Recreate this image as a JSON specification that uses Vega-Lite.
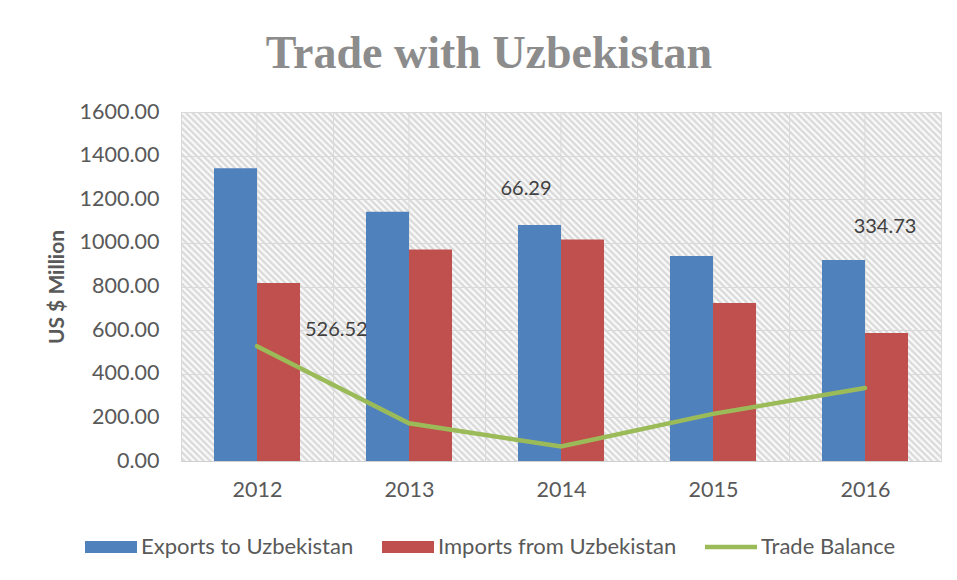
{
  "$schema": "https://vega.github.io/schema/vega-lite/v6.json",
  "width": 760,
  "height": 349,
  "autosize": "none",
  "padding": {"left": 181, "top": 112, "right": 16, "bottom": 119},
  "background": "white",
  "title": {"text": "Trade with Uzbekistan", "font": "Liberation Serif", "fontSize": 46, "fontWeight": "bold", "color": "#8c8c8c", "anchor": "middle", "frame": "group", "dx": -72, "dy": 44, "baseline": "alphabetic", "offset": 31},
  "config": {
    "view": {"stroke": "#d9d9d9", "fill": {"gradient": "linear", "x1": 0, "y1": 1, "x2": 1.411, "y2": 0.35, "stops": [
{"offset":0,"color":"#fff"},{"offset":0.0025,"color":"#d4d4d4"},{"offset":0.005,"color":"#fff"},{"offset":0.0075,"color":"#d4d4d4"},
{"offset":0.01,"color":"#fff"},{"offset":0.0125,"color":"#d4d4d4"},{"offset":0.015,"color":"#fff"},{"offset":0.0175,"color":"#d4d4d4"},
{"offset":0.02,"color":"#fff"},{"offset":0.0225,"color":"#d4d4d4"},{"offset":0.025,"color":"#fff"},{"offset":0.0275,"color":"#d4d4d4"},
{"offset":0.03,"color":"#fff"},{"offset":0.0325,"color":"#d4d4d4"},{"offset":0.035,"color":"#fff"},{"offset":0.0375,"color":"#d4d4d4"},
{"offset":0.04,"color":"#fff"},{"offset":0.0425,"color":"#d4d4d4"},{"offset":0.045,"color":"#fff"},{"offset":0.0475,"color":"#d4d4d4"},
{"offset":0.05,"color":"#fff"},{"offset":0.0525,"color":"#d4d4d4"},{"offset":0.055,"color":"#fff"},{"offset":0.0575,"color":"#d4d4d4"},
{"offset":0.06,"color":"#fff"},{"offset":0.0625,"color":"#d4d4d4"},{"offset":0.065,"color":"#fff"},{"offset":0.0675,"color":"#d4d4d4"},
{"offset":0.07,"color":"#fff"},{"offset":0.0725,"color":"#d4d4d4"},{"offset":0.075,"color":"#fff"},{"offset":0.0775,"color":"#d4d4d4"},
{"offset":0.08,"color":"#fff"},{"offset":0.0825,"color":"#d4d4d4"},{"offset":0.085,"color":"#fff"},{"offset":0.0875,"color":"#d4d4d4"},
{"offset":0.09,"color":"#fff"},{"offset":0.0925,"color":"#d4d4d4"},{"offset":0.095,"color":"#fff"},{"offset":0.0975,"color":"#d4d4d4"},
{"offset":0.1,"color":"#fff"},{"offset":0.1025,"color":"#d4d4d4"},{"offset":0.105,"color":"#fff"},{"offset":0.1075,"color":"#d4d4d4"},
{"offset":0.11,"color":"#fff"},{"offset":0.1125,"color":"#d4d4d4"},{"offset":0.115,"color":"#fff"},{"offset":0.1175,"color":"#d4d4d4"},
{"offset":0.12,"color":"#fff"},{"offset":0.1225,"color":"#d4d4d4"},{"offset":0.125,"color":"#fff"},{"offset":0.1275,"color":"#d4d4d4"},
{"offset":0.13,"color":"#fff"},{"offset":0.1325,"color":"#d4d4d4"},{"offset":0.135,"color":"#fff"},{"offset":0.1375,"color":"#d4d4d4"},
{"offset":0.14,"color":"#fff"},{"offset":0.1425,"color":"#d4d4d4"},{"offset":0.145,"color":"#fff"},{"offset":0.1475,"color":"#d4d4d4"},
{"offset":0.15,"color":"#fff"},{"offset":0.1525,"color":"#d4d4d4"},{"offset":0.155,"color":"#fff"},{"offset":0.1575,"color":"#d4d4d4"},
{"offset":0.16,"color":"#fff"},{"offset":0.1625,"color":"#d4d4d4"},{"offset":0.165,"color":"#fff"},{"offset":0.1675,"color":"#d4d4d4"},
{"offset":0.17,"color":"#fff"},{"offset":0.1725,"color":"#d4d4d4"},{"offset":0.175,"color":"#fff"},{"offset":0.1775,"color":"#d4d4d4"},
{"offset":0.18,"color":"#fff"},{"offset":0.1825,"color":"#d4d4d4"},{"offset":0.185,"color":"#fff"},{"offset":0.1875,"color":"#d4d4d4"},
{"offset":0.19,"color":"#fff"},{"offset":0.1925,"color":"#d4d4d4"},{"offset":0.195,"color":"#fff"},{"offset":0.1975,"color":"#d4d4d4"},
{"offset":0.2,"color":"#fff"},{"offset":0.2025,"color":"#d4d4d4"},{"offset":0.205,"color":"#fff"},{"offset":0.2075,"color":"#d4d4d4"},
{"offset":0.21,"color":"#fff"},{"offset":0.2125,"color":"#d4d4d4"},{"offset":0.215,"color":"#fff"},{"offset":0.2175,"color":"#d4d4d4"},
{"offset":0.22,"color":"#fff"},{"offset":0.2225,"color":"#d4d4d4"},{"offset":0.225,"color":"#fff"},{"offset":0.2275,"color":"#d4d4d4"},
{"offset":0.23,"color":"#fff"},{"offset":0.2325,"color":"#d4d4d4"},{"offset":0.235,"color":"#fff"},{"offset":0.2375,"color":"#d4d4d4"},
{"offset":0.24,"color":"#fff"},{"offset":0.2425,"color":"#d4d4d4"},{"offset":0.245,"color":"#fff"},{"offset":0.2475,"color":"#d4d4d4"},
{"offset":0.25,"color":"#fff"},{"offset":0.2525,"color":"#d4d4d4"},{"offset":0.255,"color":"#fff"},{"offset":0.2575,"color":"#d4d4d4"},
{"offset":0.26,"color":"#fff"},{"offset":0.2625,"color":"#d4d4d4"},{"offset":0.265,"color":"#fff"},{"offset":0.2675,"color":"#d4d4d4"},
{"offset":0.27,"color":"#fff"},{"offset":0.2725,"color":"#d4d4d4"},{"offset":0.275,"color":"#fff"},{"offset":0.2775,"color":"#d4d4d4"},
{"offset":0.28,"color":"#fff"},{"offset":0.2825,"color":"#d4d4d4"},{"offset":0.285,"color":"#fff"},{"offset":0.2875,"color":"#d4d4d4"},
{"offset":0.29,"color":"#fff"},{"offset":0.2925,"color":"#d4d4d4"},{"offset":0.295,"color":"#fff"},{"offset":0.2975,"color":"#d4d4d4"},
{"offset":0.3,"color":"#fff"},{"offset":0.3025,"color":"#d4d4d4"},{"offset":0.305,"color":"#fff"},{"offset":0.3075,"color":"#d4d4d4"},
{"offset":0.31,"color":"#fff"},{"offset":0.3125,"color":"#d4d4d4"},{"offset":0.315,"color":"#fff"},{"offset":0.3175,"color":"#d4d4d4"},
{"offset":0.32,"color":"#fff"},{"offset":0.3225,"color":"#d4d4d4"},{"offset":0.325,"color":"#fff"},{"offset":0.3275,"color":"#d4d4d4"},
{"offset":0.33,"color":"#fff"},{"offset":0.3325,"color":"#d4d4d4"},{"offset":0.335,"color":"#fff"},{"offset":0.3375,"color":"#d4d4d4"},
{"offset":0.34,"color":"#fff"},{"offset":0.3425,"color":"#d4d4d4"},{"offset":0.345,"color":"#fff"},{"offset":0.3475,"color":"#d4d4d4"},
{"offset":0.35,"color":"#fff"},{"offset":0.3525,"color":"#d4d4d4"},{"offset":0.355,"color":"#fff"},{"offset":0.3575,"color":"#d4d4d4"},
{"offset":0.36,"color":"#fff"},{"offset":0.3625,"color":"#d4d4d4"},{"offset":0.365,"color":"#fff"},{"offset":0.3675,"color":"#d4d4d4"},
{"offset":0.37,"color":"#fff"},{"offset":0.3725,"color":"#d4d4d4"},{"offset":0.375,"color":"#fff"},{"offset":0.3775,"color":"#d4d4d4"},
{"offset":0.38,"color":"#fff"},{"offset":0.3825,"color":"#d4d4d4"},{"offset":0.385,"color":"#fff"},{"offset":0.3875,"color":"#d4d4d4"},
{"offset":0.39,"color":"#fff"},{"offset":0.3925,"color":"#d4d4d4"},{"offset":0.395,"color":"#fff"},{"offset":0.3975,"color":"#d4d4d4"},
{"offset":0.4,"color":"#fff"},{"offset":0.4025,"color":"#d4d4d4"},{"offset":0.405,"color":"#fff"},{"offset":0.4075,"color":"#d4d4d4"},
{"offset":0.41,"color":"#fff"},{"offset":0.4125,"color":"#d4d4d4"},{"offset":0.415,"color":"#fff"},{"offset":0.4175,"color":"#d4d4d4"},
{"offset":0.42,"color":"#fff"},{"offset":0.4225,"color":"#d4d4d4"},{"offset":0.425,"color":"#fff"},{"offset":0.4275,"color":"#d4d4d4"},
{"offset":0.43,"color":"#fff"},{"offset":0.4325,"color":"#d4d4d4"},{"offset":0.435,"color":"#fff"},{"offset":0.4375,"color":"#d4d4d4"},
{"offset":0.44,"color":"#fff"},{"offset":0.4425,"color":"#d4d4d4"},{"offset":0.445,"color":"#fff"},{"offset":0.4475,"color":"#d4d4d4"},
{"offset":0.45,"color":"#fff"},{"offset":0.4525,"color":"#d4d4d4"},{"offset":0.455,"color":"#fff"},{"offset":0.4575,"color":"#d4d4d4"},
{"offset":0.46,"color":"#fff"},{"offset":0.4625,"color":"#d4d4d4"},{"offset":0.465,"color":"#fff"},{"offset":0.4675,"color":"#d4d4d4"},
{"offset":0.47,"color":"#fff"},{"offset":0.4725,"color":"#d4d4d4"},{"offset":0.475,"color":"#fff"},{"offset":0.4775,"color":"#d4d4d4"},
{"offset":0.48,"color":"#fff"},{"offset":0.4825,"color":"#d4d4d4"},{"offset":0.485,"color":"#fff"},{"offset":0.4875,"color":"#d4d4d4"},
{"offset":0.49,"color":"#fff"},{"offset":0.4925,"color":"#d4d4d4"},{"offset":0.495,"color":"#fff"},{"offset":0.4975,"color":"#d4d4d4"},
{"offset":0.5,"color":"#fff"},{"offset":0.5025,"color":"#d4d4d4"},{"offset":0.505,"color":"#fff"},{"offset":0.5075,"color":"#d4d4d4"},
{"offset":0.51,"color":"#fff"},{"offset":0.5125,"color":"#d4d4d4"},{"offset":0.515,"color":"#fff"},{"offset":0.5175,"color":"#d4d4d4"},
{"offset":0.52,"color":"#fff"},{"offset":0.5225,"color":"#d4d4d4"},{"offset":0.525,"color":"#fff"},{"offset":0.5275,"color":"#d4d4d4"},
{"offset":0.53,"color":"#fff"},{"offset":0.5325,"color":"#d4d4d4"},{"offset":0.535,"color":"#fff"},{"offset":0.5375,"color":"#d4d4d4"},
{"offset":0.54,"color":"#fff"},{"offset":0.5425,"color":"#d4d4d4"},{"offset":0.545,"color":"#fff"},{"offset":0.5475,"color":"#d4d4d4"},
{"offset":0.55,"color":"#fff"},{"offset":0.5525,"color":"#d4d4d4"},{"offset":0.555,"color":"#fff"},{"offset":0.5575,"color":"#d4d4d4"},
{"offset":0.56,"color":"#fff"},{"offset":0.5625,"color":"#d4d4d4"},{"offset":0.565,"color":"#fff"},{"offset":0.5675,"color":"#d4d4d4"},
{"offset":0.57,"color":"#fff"},{"offset":0.5725,"color":"#d4d4d4"},{"offset":0.575,"color":"#fff"},{"offset":0.5775,"color":"#d4d4d4"},
{"offset":0.58,"color":"#fff"},{"offset":0.5825,"color":"#d4d4d4"},{"offset":0.585,"color":"#fff"},{"offset":0.5875,"color":"#d4d4d4"},
{"offset":0.59,"color":"#fff"},{"offset":0.5925,"color":"#d4d4d4"},{"offset":0.595,"color":"#fff"},{"offset":0.5975,"color":"#d4d4d4"},
{"offset":0.6,"color":"#fff"},{"offset":0.6025,"color":"#d4d4d4"},{"offset":0.605,"color":"#fff"},{"offset":0.6075,"color":"#d4d4d4"},
{"offset":0.61,"color":"#fff"},{"offset":0.6125,"color":"#d4d4d4"},{"offset":0.615,"color":"#fff"},{"offset":0.6175,"color":"#d4d4d4"},
{"offset":0.62,"color":"#fff"},{"offset":0.6225,"color":"#d4d4d4"},{"offset":0.625,"color":"#fff"},{"offset":0.6275,"color":"#d4d4d4"},
{"offset":0.63,"color":"#fff"},{"offset":0.6325,"color":"#d4d4d4"},{"offset":0.635,"color":"#fff"},{"offset":0.6375,"color":"#d4d4d4"},
{"offset":0.64,"color":"#fff"},{"offset":0.6425,"color":"#d4d4d4"},{"offset":0.645,"color":"#fff"},{"offset":0.6475,"color":"#d4d4d4"},
{"offset":0.65,"color":"#fff"},{"offset":0.6525,"color":"#d4d4d4"},{"offset":0.655,"color":"#fff"},{"offset":0.6575,"color":"#d4d4d4"},
{"offset":0.66,"color":"#fff"},{"offset":0.6625,"color":"#d4d4d4"},{"offset":0.665,"color":"#fff"},{"offset":0.6675,"color":"#d4d4d4"},
{"offset":0.67,"color":"#fff"},{"offset":0.6725,"color":"#d4d4d4"},{"offset":0.675,"color":"#fff"},{"offset":0.6775,"color":"#d4d4d4"},
{"offset":0.68,"color":"#fff"},{"offset":0.6825,"color":"#d4d4d4"},{"offset":0.685,"color":"#fff"},{"offset":0.6875,"color":"#d4d4d4"},
{"offset":0.69,"color":"#fff"},{"offset":0.6925,"color":"#d4d4d4"},{"offset":0.695,"color":"#fff"},{"offset":0.6975,"color":"#d4d4d4"},
{"offset":0.7,"color":"#fff"},{"offset":0.7025,"color":"#d4d4d4"},{"offset":0.705,"color":"#fff"},{"offset":0.7075,"color":"#d4d4d4"},
{"offset":0.71,"color":"#fff"},{"offset":0.7125,"color":"#d4d4d4"},{"offset":0.715,"color":"#fff"},{"offset":0.7175,"color":"#d4d4d4"},
{"offset":0.72,"color":"#fff"},{"offset":0.7225,"color":"#d4d4d4"},{"offset":0.725,"color":"#fff"},{"offset":0.7275,"color":"#d4d4d4"},
{"offset":0.73,"color":"#fff"},{"offset":0.7325,"color":"#d4d4d4"},{"offset":0.735,"color":"#fff"},{"offset":0.7375,"color":"#d4d4d4"},
{"offset":0.74,"color":"#fff"},{"offset":0.7425,"color":"#d4d4d4"},{"offset":0.745,"color":"#fff"},{"offset":0.7475,"color":"#d4d4d4"},
{"offset":0.75,"color":"#fff"},{"offset":0.7525,"color":"#d4d4d4"},{"offset":0.755,"color":"#fff"},{"offset":0.7575,"color":"#d4d4d4"},
{"offset":0.76,"color":"#fff"},{"offset":0.7625,"color":"#d4d4d4"},{"offset":0.765,"color":"#fff"},{"offset":0.7675,"color":"#d4d4d4"},
{"offset":0.77,"color":"#fff"},{"offset":0.7725,"color":"#d4d4d4"},{"offset":0.775,"color":"#fff"},{"offset":0.7775,"color":"#d4d4d4"},
{"offset":0.78,"color":"#fff"},{"offset":0.7825,"color":"#d4d4d4"},{"offset":0.785,"color":"#fff"},{"offset":0.7875,"color":"#d4d4d4"},
{"offset":0.79,"color":"#fff"},{"offset":0.7925,"color":"#d4d4d4"},{"offset":0.795,"color":"#fff"},{"offset":0.7975,"color":"#d4d4d4"},
{"offset":0.8,"color":"#fff"},{"offset":0.8025,"color":"#d4d4d4"},{"offset":0.805,"color":"#fff"},{"offset":0.8075,"color":"#d4d4d4"},
{"offset":0.81,"color":"#fff"},{"offset":0.8125,"color":"#d4d4d4"},{"offset":0.815,"color":"#fff"},{"offset":0.8175,"color":"#d4d4d4"},
{"offset":0.82,"color":"#fff"},{"offset":0.8225,"color":"#d4d4d4"},{"offset":0.825,"color":"#fff"},{"offset":0.8275,"color":"#d4d4d4"},
{"offset":0.83,"color":"#fff"},{"offset":0.8325,"color":"#d4d4d4"},{"offset":0.835,"color":"#fff"},{"offset":0.8375,"color":"#d4d4d4"},
{"offset":0.84,"color":"#fff"},{"offset":0.8425,"color":"#d4d4d4"},{"offset":0.845,"color":"#fff"},{"offset":0.8475,"color":"#d4d4d4"},
{"offset":0.85,"color":"#fff"},{"offset":0.8525,"color":"#d4d4d4"},{"offset":0.855,"color":"#fff"},{"offset":0.8575,"color":"#d4d4d4"},
{"offset":0.86,"color":"#fff"},{"offset":0.8625,"color":"#d4d4d4"},{"offset":0.865,"color":"#fff"},{"offset":0.8675,"color":"#d4d4d4"},
{"offset":0.87,"color":"#fff"},{"offset":0.8725,"color":"#d4d4d4"},{"offset":0.875,"color":"#fff"},{"offset":0.8775,"color":"#d4d4d4"},
{"offset":0.88,"color":"#fff"},{"offset":0.8825,"color":"#d4d4d4"},{"offset":0.885,"color":"#fff"},{"offset":0.8875,"color":"#d4d4d4"},
{"offset":0.89,"color":"#fff"},{"offset":0.8925,"color":"#d4d4d4"},{"offset":0.895,"color":"#fff"},{"offset":0.8975,"color":"#d4d4d4"},
{"offset":0.9,"color":"#fff"},{"offset":0.9025,"color":"#d4d4d4"},{"offset":0.905,"color":"#fff"},{"offset":0.9075,"color":"#d4d4d4"},
{"offset":0.91,"color":"#fff"},{"offset":0.9125,"color":"#d4d4d4"},{"offset":0.915,"color":"#fff"},{"offset":0.9175,"color":"#d4d4d4"},
{"offset":0.92,"color":"#fff"},{"offset":0.9225,"color":"#d4d4d4"},{"offset":0.925,"color":"#fff"},{"offset":0.9275,"color":"#d4d4d4"},
{"offset":0.93,"color":"#fff"},{"offset":0.9325,"color":"#d4d4d4"},{"offset":0.935,"color":"#fff"},{"offset":0.9375,"color":"#d4d4d4"},
{"offset":0.94,"color":"#fff"},{"offset":0.9425,"color":"#d4d4d4"},{"offset":0.945,"color":"#fff"},{"offset":0.9475,"color":"#d4d4d4"},
{"offset":0.95,"color":"#fff"},{"offset":0.9525,"color":"#d4d4d4"},{"offset":0.955,"color":"#fff"},{"offset":0.9575,"color":"#d4d4d4"},
{"offset":0.96,"color":"#fff"},{"offset":0.9625,"color":"#d4d4d4"},{"offset":0.965,"color":"#fff"},{"offset":0.9675,"color":"#d4d4d4"},
{"offset":0.97,"color":"#fff"},{"offset":0.9725,"color":"#d4d4d4"},{"offset":0.975,"color":"#fff"},{"offset":0.9775,"color":"#d4d4d4"},
{"offset":0.98,"color":"#fff"},{"offset":0.9825,"color":"#d4d4d4"},{"offset":0.985,"color":"#fff"},{"offset":0.9875,"color":"#d4d4d4"},
{"offset":0.99,"color":"#fff"},{"offset":0.9925,"color":"#d4d4d4"},{"offset":0.995,"color":"#fff"},{"offset":0.9975,"color":"#d4d4d4"},
{"offset":1,"color":"#fff"}
]}},
    "axis": {"labelFont": "Lato", "titleFont": "Lato", "labelColor": "#595959", "titleColor": "#595959", "labelFontSize": 21.5, "titleFontSize": 21, "ticks": false, "gridColor": "#d9d9d9", "gridWidth": 1},
    "legend": {"labelFont": "Lato", "labelFontSize": 22, "labelColor": "#595959", "labelLimit": 0}
  },
  "data": {"values": [
    {"year": "2012", "series": "Exports to Uzbekistan", "value": 1342.0},
    {"year": "2012", "series": "Imports from Uzbekistan", "value": 815.48},
    {"year": "2012", "series": "Trade Balance", "value": 526.52},
    {"year": "2013", "series": "Exports to Uzbekistan", "value": 1143.0},
    {"year": "2013", "series": "Imports from Uzbekistan", "value": 970.0},
    {"year": "2013", "series": "Trade Balance", "value": 173.0},
    {"year": "2014", "series": "Exports to Uzbekistan", "value": 1082.0},
    {"year": "2014", "series": "Imports from Uzbekistan", "value": 1015.71},
    {"year": "2014", "series": "Trade Balance", "value": 66.29},
    {"year": "2015", "series": "Exports to Uzbekistan", "value": 940.0},
    {"year": "2015", "series": "Imports from Uzbekistan", "value": 724.0},
    {"year": "2015", "series": "Trade Balance", "value": 216.0},
    {"year": "2016", "series": "Exports to Uzbekistan", "value": 921.73},
    {"year": "2016", "series": "Imports from Uzbekistan", "value": 587.0},
    {"year": "2016", "series": "Trade Balance", "value": 334.73}
  ]},
  "encoding": {
    "x": {"field": "year", "type": "ordinal", "scale": {"paddingInner": 0, "paddingOuter": 0}, "axis": {"title": null, "labelAngle": 0, "grid": true, "tickBand": "extent", "domainColor": "#d0d0d0", "labelPadding": 18}},
    "y": {"field": "value", "type": "quantitative", "scale": {"domain": [0, 1600], "nice": false}, "axis": {"title": "US $ Million", "values": [0, 200, 400, 600, 800, 1000, 1200, 1400, 1600], "format": ".2f", "domain": false, "labelPadding": 22, "titlePadding": 12, "titleFontWeight": "bold"}}
  },
  "layer": [
    {
      "transform": [{"filter": "datum.series === 'Trade Balance'"}],
      "mark": {"type": "rule", "color": "#d9d9d9", "strokeWidth": 1},
      "encoding": {"y": null}
    },
    {
      "transform": [{"filter": "datum.series !== 'Trade Balance'"}],
      "mark": {"type": "bar"},
      "encoding": {
        "xOffset": {"field": "series", "type": "nominal", "scale": {"domain": ["Exports to Uzbekistan", "Imports from Uzbekistan"], "paddingInner": 0, "paddingOuter": 0.767}},
        "color": {"field": "series", "type": "nominal", "scale": {"domain": ["Exports to Uzbekistan", "Imports from Uzbekistan", "Trade Balance"], "range": ["#4F81BD", "#C0504D", "#9BBB59"]},
          "legend": {"title": null, "orient": "none", "legendX": -96, "legendY": 409, "direction": "horizontal", "symbolType": "M-1,-0.23H1V0.23H-1Z", "symbolSize": 2704, "symbolStrokeWidth": 0, "labelOffset": 4, "columnPadding": 28,
            "encode": {"symbols": {"update": {"shape": {"signal": "datum.label === 'Trade Balance' ? 'M-1,-0.09H1V0.09H-1Z' : 'M-1,-0.23H1V0.23H-1Z'"}}}}}}
      }
    },
    {
      "transform": [{"filter": "datum.series === 'Trade Balance'"}],
      "mark": {"type": "line", "strokeWidth": 4.5, "strokeCap": "round"},
      "encoding": {"color": {"field": "series", "type": "nominal"}}
    },
    {
      "transform": [{"filter": "datum.series === 'Trade Balance' && datum.year === '2012'"}],
      "mark": {"type": "text", "align": "left", "baseline": "middle", "dx": 48, "dy": -16, "font": "Lato", "fontSize": 20, "color": "#404040"},
      "encoding": {"text": {"field": "value", "type": "quantitative", "format": ".2f"}}
    },
    {
      "transform": [{"filter": "datum.series === 'Trade Balance' && datum.year === '2014'"}],
      "mark": {"type": "text", "align": "center", "baseline": "middle", "dx": -35, "dy": -258, "font": "Lato", "fontSize": 20, "color": "#404040"},
      "encoding": {"text": {"field": "value", "type": "quantitative", "format": ".2f"}}
    },
    {
      "transform": [{"filter": "datum.series === 'Trade Balance' && datum.year === '2016'"}],
      "mark": {"type": "text", "align": "center", "baseline": "middle", "dx": 20, "dy": -161, "font": "Lato", "fontSize": 20, "color": "#404040"},
      "encoding": {"text": {"field": "value", "type": "quantitative", "format": ".2f"}}
    }
  ]
}
